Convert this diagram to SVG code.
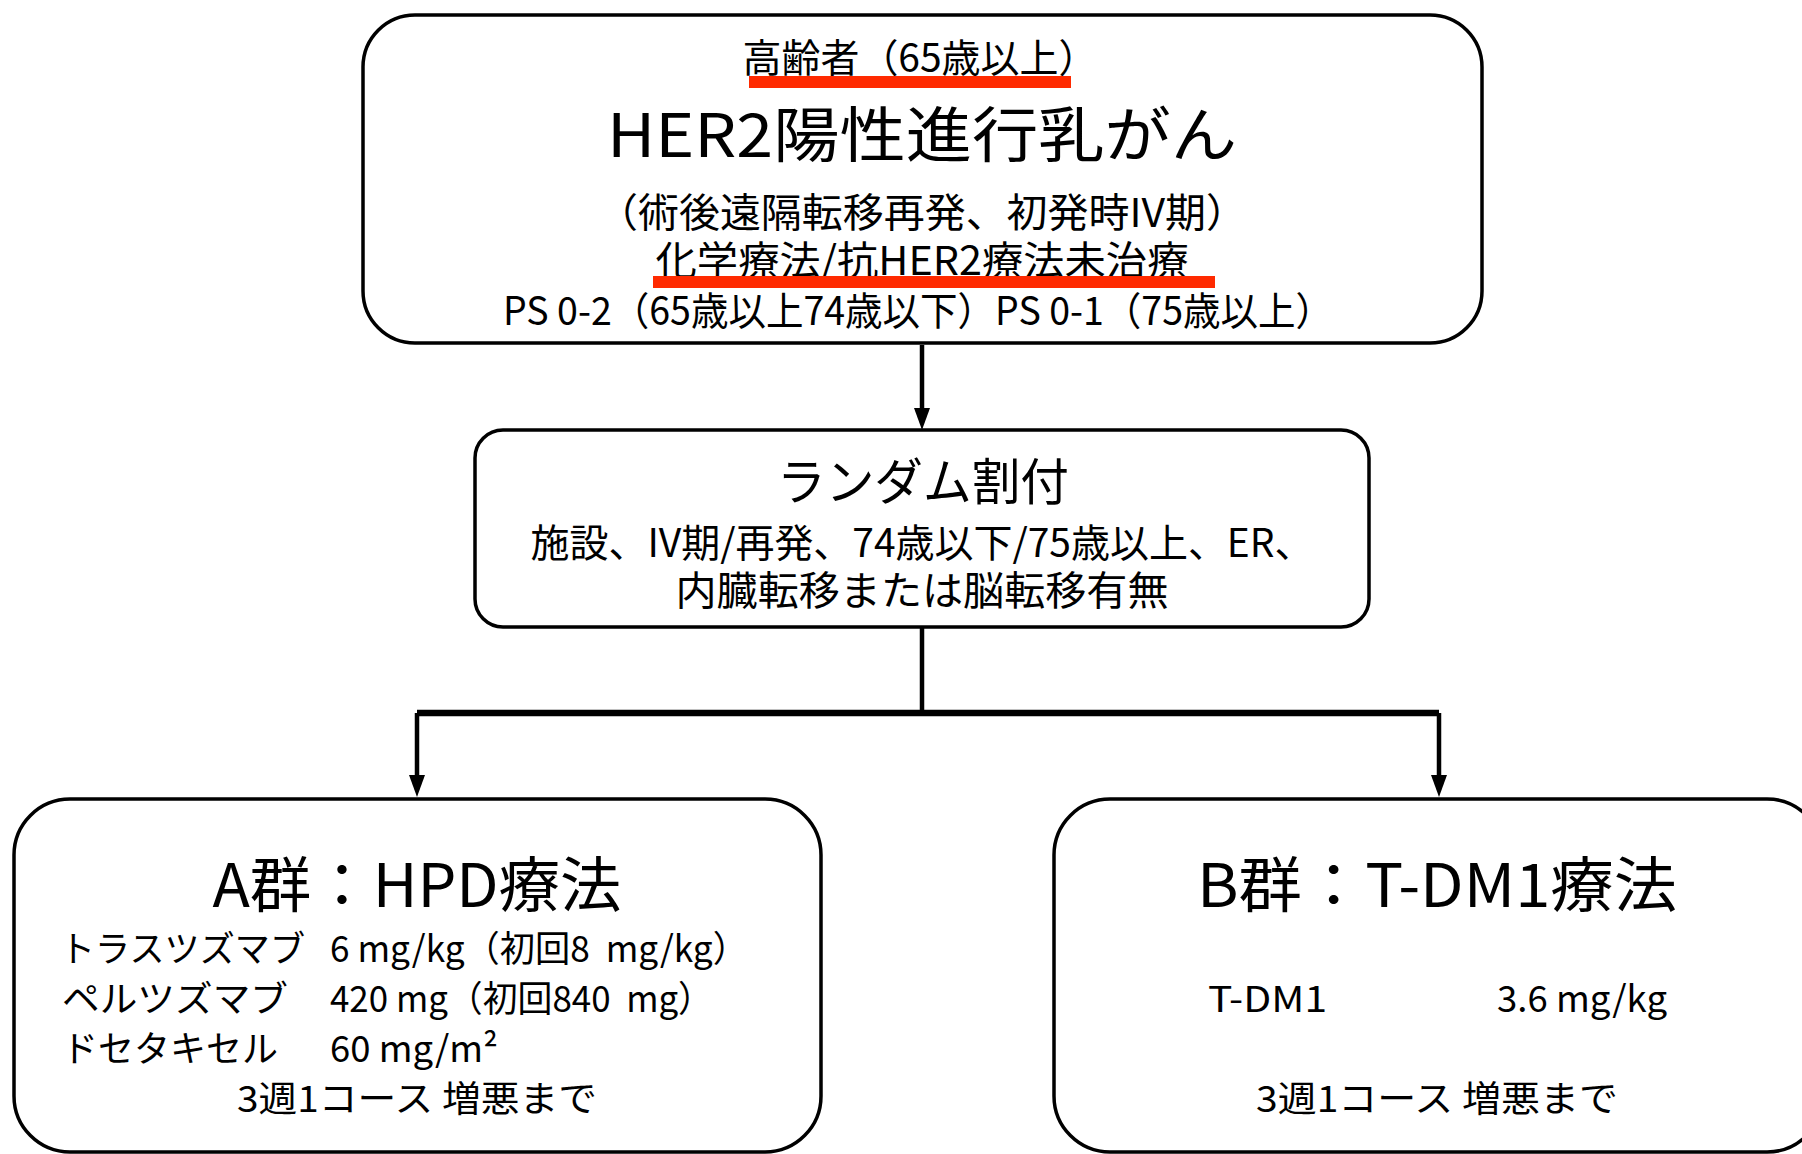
<svg xmlns="http://www.w3.org/2000/svg" width="1802" height="1154" viewBox="0 0 1802 1154">
<style>
.box{fill:#fff;stroke:#000;stroke-width:3.5}
text{font-family:"Noto Sans CJK JP","Noto Sans",sans-serif;fill:#000}
.c{text-anchor:middle}
.conn{fill:none;stroke:#000;stroke-width:4.5}
.bar{fill:none;stroke:#000;stroke-width:6.5}
.red{fill:#ff2a00}
</style>
<defs>
<marker id="ah" markerUnits="userSpaceOnUse" markerWidth="22" markerHeight="16" viewBox="0 0 22 16" refX="12" refY="8" orient="auto"><path d="M0,0 L22,8 L0,16 z" fill="#000"/></marker>
</defs>
<rect width="1802" height="1154" fill="#fff"/>
<g id="connectors">
<path class="conn" d="M922,345 V420" marker-end="url(#ah)"/>
<path class="conn" d="M922,627 V713"/>
<path class="bar" d="M417,713 H1439"/>
<path class="conn" d="M417,713 V787" marker-end="url(#ah)"/>
<path class="conn" d="M1439,713 V787" marker-end="url(#ah)"/>
</g>
<g id="node-top">
<rect class="box" x="363" y="15" width="1119" height="328" rx="52"/>
<text class="c" x="920" y="72" font-size="39" textLength="355" lengthAdjust="spacingAndGlyphs">高齢者（65歳以上）</text>
<rect class="red" x="749" y="76" width="322" height="12"/>
<text class="c" x="922" y="157" font-size="60" textLength="630" lengthAdjust="spacingAndGlyphs">HER2陽性進行乳がん</text>
<text class="c" x="922" y="227" font-size="40" textLength="650" lengthAdjust="spacingAndGlyphs">（術後遠隔転移再発、初発時IV期）</text>
<text class="c" x="922" y="275" font-size="40" textLength="533" lengthAdjust="spacingAndGlyphs">化学療法/抗HER2療法未治療</text>
<rect class="red" x="653" y="276" width="562" height="12"/>
<text class="c" x="918" y="325" font-size="39" textLength="830" lengthAdjust="spacingAndGlyphs">PS 0-2（65歳以上74歳以下）PS 0-1（75歳以上）</text>
</g>
<g id="node-random">
<rect class="box" x="475" y="430" width="894" height="197" rx="28"/>
<text class="c" x="923" y="500" font-size="50" textLength="292" lengthAdjust="spacingAndGlyphs">ランダム割付</text>
<text class="c" x="922" y="557" font-size="39" textLength="783" lengthAdjust="spacingAndGlyphs">施設、IV期/再発、74歳以下/75歳以上、ER、</text>
<text class="c" x="922" y="605" font-size="40" textLength="493" lengthAdjust="spacingAndGlyphs">内臓転移または脳転移有無</text>
</g>
<g id="node-a">
<rect class="box" x="14" y="799" width="807" height="353" rx="56"/>
<text class="c" x="417" y="907" font-size="60" textLength="409" lengthAdjust="spacingAndGlyphs">A群：HPD療法</text>
<text x="60" y="962" font-size="36" textLength="245" lengthAdjust="spacingAndGlyphs">トラスツズマブ</text>
<text x="330" y="962" font-size="36" textLength="418" lengthAdjust="spacingAndGlyphs" xml:space="preserve">6 mg/kg（初回8  mg/kg）</text>
<text x="62" y="1012" font-size="36" textLength="226" lengthAdjust="spacingAndGlyphs">ペルツズマブ</text>
<text x="330" y="1012" font-size="36" textLength="383" lengthAdjust="spacingAndGlyphs" xml:space="preserve">420 mg（初回840  mg）</text>
<text x="62" y="1062" font-size="36" textLength="216" lengthAdjust="spacingAndGlyphs">ドセタキセル</text>
<text x="330" y="1062" font-size="36" textLength="168" lengthAdjust="spacingAndGlyphs">60 mg/m²</text>
<text x="237" y="1112" font-size="36" textLength="360" lengthAdjust="spacingAndGlyphs">3週1コース 増悪まで</text>
</g>
<g id="node-b">
<rect class="box" x="1054" y="799" width="769" height="353" rx="56"/>
<text x="1197" y="907" font-size="60" textLength="480" lengthAdjust="spacingAndGlyphs">B群：T-DM1療法</text>
<text x="1208" y="1012" font-size="36" textLength="119" lengthAdjust="spacingAndGlyphs">T-DM1</text>
<text x="1497" y="1012" font-size="36" textLength="170" lengthAdjust="spacingAndGlyphs">3.6 mg/kg</text>
<text x="1256" y="1112" font-size="36" textLength="362" lengthAdjust="spacingAndGlyphs">3週1コース 増悪まで</text>
</g>
</svg>
